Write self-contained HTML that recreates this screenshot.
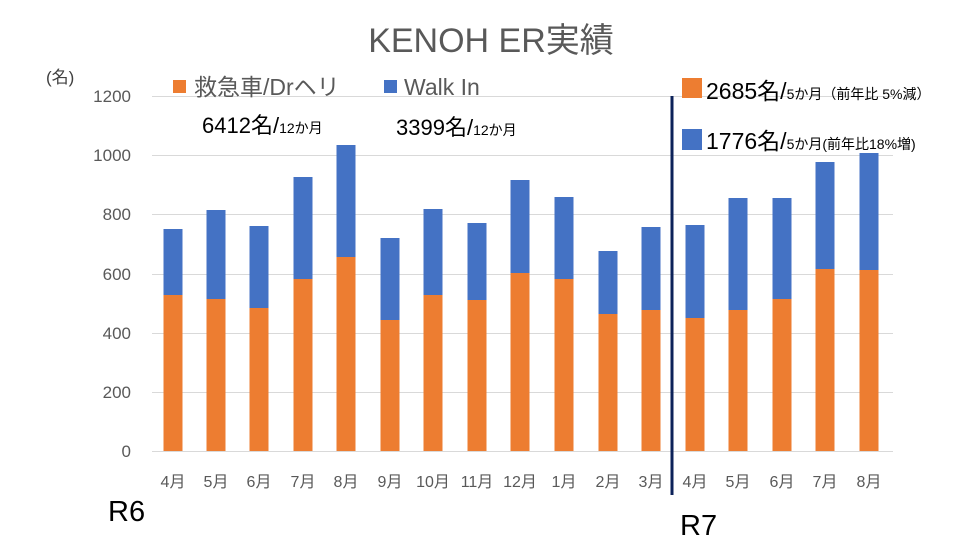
<!DOCTYPE html><html><head><meta charset="utf-8"><style>body{margin:0;background:#fff}svg{display:block}text{font-family:"Liberation Sans","Noto Sans CJK JP",sans-serif}</style></head><body>
<svg width="962" height="548" xmlns="http://www.w3.org/2000/svg">
<text x="491" y="52" text-anchor="middle" font-size="34" fill="#595959">KENOH ER実績</text>
<g stroke="#d9d9d9" stroke-width="1">
<line x1="152" x2="893" y1="96.5" y2="96.5"/><line x1="152" x2="893" y1="155.5" y2="155.5"/><line x1="152" x2="893" y1="214.5" y2="214.5"/><line x1="152" x2="893" y1="274.5" y2="274.5"/><line x1="152" x2="893" y1="333.5" y2="333.5"/><line x1="152" x2="893" y1="392.5" y2="392.5"/><line x1="152" x2="893" y1="451.5" y2="451.5"/></g>
<g font-size="17" fill="#595959" text-anchor="end">
<text x="131" y="102">1200</text><text x="131" y="161">1000</text><text x="131" y="220">800</text><text x="131" y="280">600</text><text x="131" y="339">400</text><text x="131" y="398">200</text><text x="131" y="457">0</text></g>
<text x="46" y="83" font-size="17" fill="#404040">(名)</text>
<g fill="#4472c4">
<rect x="163.5" y="229" width="19" height="66"/><rect x="206.5" y="210" width="19" height="89"/><rect x="249.5" y="226" width="19" height="82"/><rect x="293.5" y="177" width="19" height="102"/><rect x="336.5" y="145" width="19" height="112"/><rect x="380.5" y="238" width="19" height="82"/><rect x="423.5" y="209" width="19" height="86"/><rect x="467.5" y="223" width="19" height="77"/><rect x="510.5" y="180" width="19" height="93"/><rect x="554.5" y="197" width="19" height="82"/><rect x="598.5" y="251" width="19" height="63"/><rect x="641.5" y="227" width="19" height="83"/><rect x="685.5" y="225" width="19" height="93"/><rect x="728.5" y="198" width="19" height="112"/><rect x="772.5" y="198" width="19" height="101"/><rect x="815.5" y="162" width="19" height="107"/><rect x="859.5" y="153" width="19" height="117"/></g>
<g fill="#ed7d31">
<rect x="163.5" y="295" width="19" height="156"/><rect x="206.5" y="299" width="19" height="152"/><rect x="249.5" y="308" width="19" height="143"/><rect x="293.5" y="279" width="19" height="172"/><rect x="336.5" y="257" width="19" height="194"/><rect x="380.5" y="320" width="19" height="131"/><rect x="423.5" y="295" width="19" height="156"/><rect x="467.5" y="300" width="19" height="151"/><rect x="510.5" y="273" width="19" height="178"/><rect x="554.5" y="279" width="19" height="172"/><rect x="598.5" y="314" width="19" height="137"/><rect x="641.5" y="310" width="19" height="141"/><rect x="685.5" y="318" width="19" height="133"/><rect x="728.5" y="310" width="19" height="141"/><rect x="772.5" y="299" width="19" height="152"/><rect x="815.5" y="269" width="19" height="182"/><rect x="859.5" y="270" width="19" height="181"/></g>
<line x1="672" y1="96" x2="672" y2="495" stroke="#0c2259" stroke-width="3"/>
<rect x="173" y="80" width="13" height="13" fill="#ed7d31"/><text x="194" y="95" font-size="23" fill="#595959">救急車/Drヘリ</text>
<rect x="384" y="80" width="13" height="13" fill="#4472c4"/><text x="404" y="95" font-size="23" fill="#595959">Walk In</text>
<text x="202" y="133" font-size="22" fill="#000">6412名/<tspan font-size="14">12か月</tspan></text>
<text x="396" y="135" font-size="22" fill="#000">3399名/<tspan font-size="14">12か月</tspan></text>
<rect x="682" y="78" width="20" height="20" fill="#ed7d31"/><text x="706" y="99" font-size="23" fill="#000">2685名/<tspan font-size="14">5か月（前年比 5%減）</tspan></text>
<rect x="682" y="129" width="20" height="21" fill="#4472c4"/><text x="706" y="149" font-size="23" fill="#000">1776名/<tspan font-size="14">5か月(前年比18%増)</tspan></text>
<text x="108" y="521" font-size="29" fill="#000">R6</text>
<text x="680" y="535" font-size="29" fill="#000">R7</text>
<g font-size="16" fill="#595959" text-anchor="middle">
<text x="173" y="487">4月</text><text x="216" y="487">5月</text><text x="259" y="487">6月</text><text x="303" y="487">7月</text><text x="346" y="487">8月</text><text x="390" y="487">9月</text><text x="433" y="487">10月</text><text x="477" y="487">11月</text><text x="520" y="487">12月</text><text x="564" y="487">1月</text><text x="608" y="487">2月</text><text x="651" y="487">3月</text><text x="695" y="487">4月</text><text x="738" y="487">5月</text><text x="782" y="487">6月</text><text x="825" y="487">7月</text><text x="869" y="487">8月</text></g>
</svg></body></html>
